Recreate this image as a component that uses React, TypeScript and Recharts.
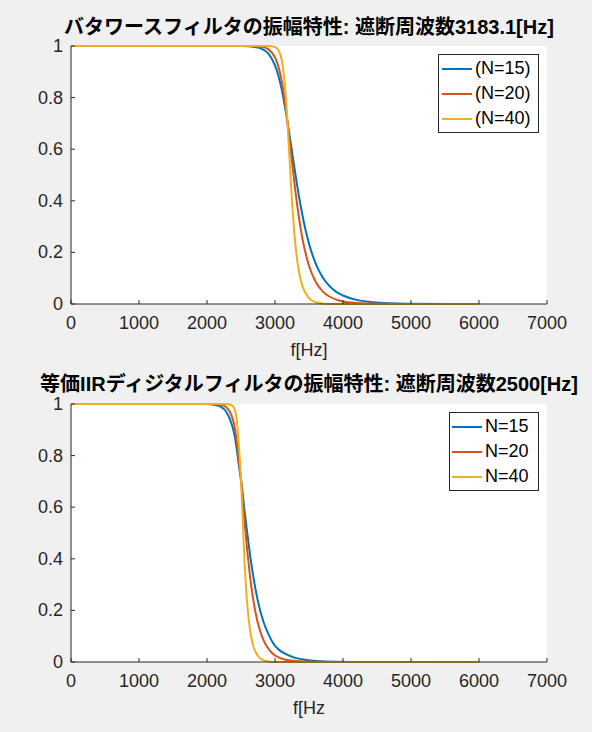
import React from 'react';
import { CartesianGrid, Legend, Line, LineChart, XAxis, YAxis } from 'recharts';

// top: analog Butterworth, cutoff 3183.1 Hz
const topFreq = [0, 500, 1000, 1500, 2000, 2500, 2600, 2700, 2800, 2900, 3000, 3050, 3100, 3150, 3183, 3250, 3300, 3350, 3400, 3500, 3600, 3700, 3800, 3900, 4000, 4200, 4400, 4600, 5000, 5500, 6000];
const topN15 = [1, 1, 1, 1, 1, 1, 0.999, 0.996, 0.99, 0.971, 0.925, 0.885, 0.83, 0.76, 0.707, 0.591, 0.503, 0.421, 0.349, 0.234, 0.156, 0.104, 0.07, 0.047, 0.033, 0.016, 0.008, 0.004, 0.001, 0, 0];
const topN20 = [1, 1, 1, 1, 1, 1, 1, 0.999, 0.997, 0.988, 0.956, 0.92, 0.862, 0.777, 0.707, 0.551, 0.437, 0.339, 0.258, 0.148, 0.085, 0.049, 0.029, 0.017, 0.01, 0.004, 0.002, 0.001, 0, 0, 0];
const topN40 = [1, 1, 1, 1, 1, 1, 1, 1, 1, 1, 0.996, 0.984, 0.945, 0.835, 0.707, 0.399, 0.23, 0.129, 0.072, 0.023, 0.007, 0.002, 0, 0, 0, 0, 0, 0, 0, 0, 0];

// bottom: equivalent IIR digital filter, cutoff 2500 Hz
const bottomFreq = [0, 400, 800, 1200, 1570, 1960, 2040, 2120, 2200, 2280, 2360, 2400, 2435, 2470, 2500, 2550, 2590, 2630, 2670, 2750, 2830, 2910, 2980, 3060, 3140, 3300, 3460, 3610, 3930, 4320, 6000];
const bottomN15 = [1, 1, 1, 1, 1, 1, 0.999, 0.996, 0.99, 0.971, 0.925, 0.885, 0.83, 0.76, 0.707, 0.591, 0.503, 0.421, 0.349, 0.234, 0.156, 0.104, 0.07, 0.047, 0.033, 0.016, 0.008, 0.004, 0.001, 0, 0];
const bottomN20 = [1, 1, 1, 1, 1, 1, 1, 0.999, 0.997, 0.988, 0.956, 0.92, 0.862, 0.777, 0.707, 0.551, 0.437, 0.339, 0.258, 0.148, 0.085, 0.049, 0.029, 0.017, 0.01, 0.004, 0.002, 0.001, 0, 0, 0];
const bottomN40 = [1, 1, 1, 1, 1, 1, 1, 1, 1, 1, 0.996, 0.984, 0.945, 0.835, 0.707, 0.399, 0.23, 0.129, 0.072, 0.023, 0.007, 0.002, 0, 0, 0, 0, 0, 0, 0, 0, 0];

const xTicks = [0, 1000, 2000, 3000, 4000, 5000, 6000, 7000];
const yTicks = [0, 0.2, 0.4, 0.6, 0.8, 1];

const topNames = ['(N=15)', '(N=20)', '(N=40)'];
const bottomNames = ['N=15', 'N=20', 'N=40'];
const colors = ['#0072BD', '#D95319', '#EDB120'];

const FONT = '"Liberation Sans", Arial, "Noto Sans CJK JP", sans-serif';
const INK = '#262626';

const topRows = topFreq.map((f, i) => ({ f, a: topN15[i], b: topN20[i], c: topN40[i] }));
const bottomRows = bottomFreq.map((f, i) => ({ f, a: bottomN15[i], b: bottomN20[i], c: bottomN40[i] }));

const XTick = (props: any) => {
  const { x, y, payload } = props;
  return (
    <g>
      <line x1={x} x2={x} y1={y} y2={y - 4} stroke={INK} strokeWidth={1} />
      <text x={x} y={y + 19} textAnchor="middle" dominantBaseline="central" fontSize={18} fontFamily={FONT} fill={INK}>
        {payload.value}
      </text>
    </g>
  );
};

const YTick = (props: any) => {
  const { x, y, payload } = props;
  return (
    <g>
      <line x1={x} x2={x + 4} y1={y} y2={y} stroke={INK} strokeWidth={1} />
      <text x={x - 8} y={y} textAnchor="end" dominantBaseline="central" fontSize={18} fontFamily={FONT} fill={INK}>
        {payload.value}
      </text>
    </g>
  );
};

const legendContent = (sampleLeft: number) => (props: any) => (
  <div
    style={{
      boxSizing: 'border-box',
      border: `1px solid ${INK}`,
      background: '#fff',
      padding: `1px 0 1px ${sampleLeft}px`,
      fontFamily: FONT,
      fontSize: 18,
      color: '#000',
    }}
  >
    {(props.payload || []).map((item: any) => (
      <div key={item.value} style={{ display: 'flex', alignItems: 'center', height: 25 }}>
        <div style={{ width: 30, height: 2, background: item.color, marginRight: 3 }} />
        <span style={{ lineHeight: '25px' }}>{item.value}</span>
      </div>
    ))}
  </div>
);

type PanelProps = {
  rows: { f: number; a: number; b: number; c: number }[];
  names: string[];
  top: number;
  marginTop: number;
  marginBottom: number;
  legend: { left: number; top: number; width: number; pad: number };
};

const Panel = ({ rows, names, top, marginTop, marginBottom, legend }: PanelProps) => (
  <div style={{ position: 'absolute', left: 0, top, width: 592, height: 366 }}>
    <LineChart width={592} height={366} data={rows} margin={{ top: marginTop, right: 45, bottom: marginBottom, left: 0 }}>
      <CartesianGrid horizontal={false} vertical={false} fill="#ffffff" fillOpacity={1} stroke="none" />
      <XAxis
        dataKey="f"
        type="number"
        domain={[0, 7000]}
        ticks={xTicks}
        height={40}
        tickSize={0}
        tickMargin={0}
        tickLine={false}
        axisLine={{ stroke: INK, strokeWidth: 1 }}
        tick={<XTick />}
        interval={0}
      />
      <YAxis
        type="number"
        domain={[0, 1]}
        ticks={yTicks}
        width={71}
        tickSize={0}
        tickMargin={0}
        tickLine={false}
        axisLine={{ stroke: INK, strokeWidth: 1 }}
        tick={<YTick />}
        interval={0}
      />
      <Legend
        layout="vertical"
        align="center"
        verticalAlign="middle"
        wrapperStyle={{ left: legend.left, top: legend.top, width: legend.width }}
        content={legendContent(legend.pad)}
      />
      <Line type="monotone" dataKey="a" name={names[0]} stroke={colors[0]} strokeWidth={2} dot={false} isAnimationActive={false} />
      <Line type="monotone" dataKey="b" name={names[1]} stroke={colors[1]} strokeWidth={2} dot={false} isAnimationActive={false} />
      <Line type="monotone" dataKey="c" name={names[2]} stroke={colors[2]} strokeWidth={2} dot={false} isAnimationActive={false} />
    </LineChart>
  </div>
);

// centred on the plot area (x 71..547)
const textBox = (top: number, size: number, bold: boolean): React.CSSProperties => ({
  position: 'absolute',
  left: 309,
  transform: 'translateX(-50%)',
  top,
  height: size,
  lineHeight: `${size}px`,
  fontSize: size,
  fontWeight: bold ? 700 : 400,
  fontFamily: FONT,
  whiteSpace: 'nowrap',
  color: bold ? '#000' : INK,
});

export default function App() {
  return (
    <div style={{ position: 'fixed', left: 0, top: 0, width: 592, height: 732, background: '#f0f0f0', overflow: 'hidden' }}>
      <Panel rows={topRows} names={topNames} top={0} marginTop={46} marginBottom={22} legend={{ left: 438, top: 54, width: 101, pad: 3 }} />
      <Panel rows={bottomRows} names={bottomNames} top={366} marginTop={38} marginBottom={30} legend={{ left: 449, top: 46, width: 90, pad: 2 }} />
      <div style={textBox(17, 20, true)}>バタワースフィルタの振幅特性: 遮断周波数3183.1[Hz]</div>
      <div style={textBox(341, 18, false)}>f[Hz]</div>
      <div style={textBox(374, 20, true)}>等価IIRディジタルフィルタの振幅特性: 遮断周波数2500[Hz]</div>
      <div style={textBox(699, 18, false)}>f[Hz</div>
    </div>
  );
}
